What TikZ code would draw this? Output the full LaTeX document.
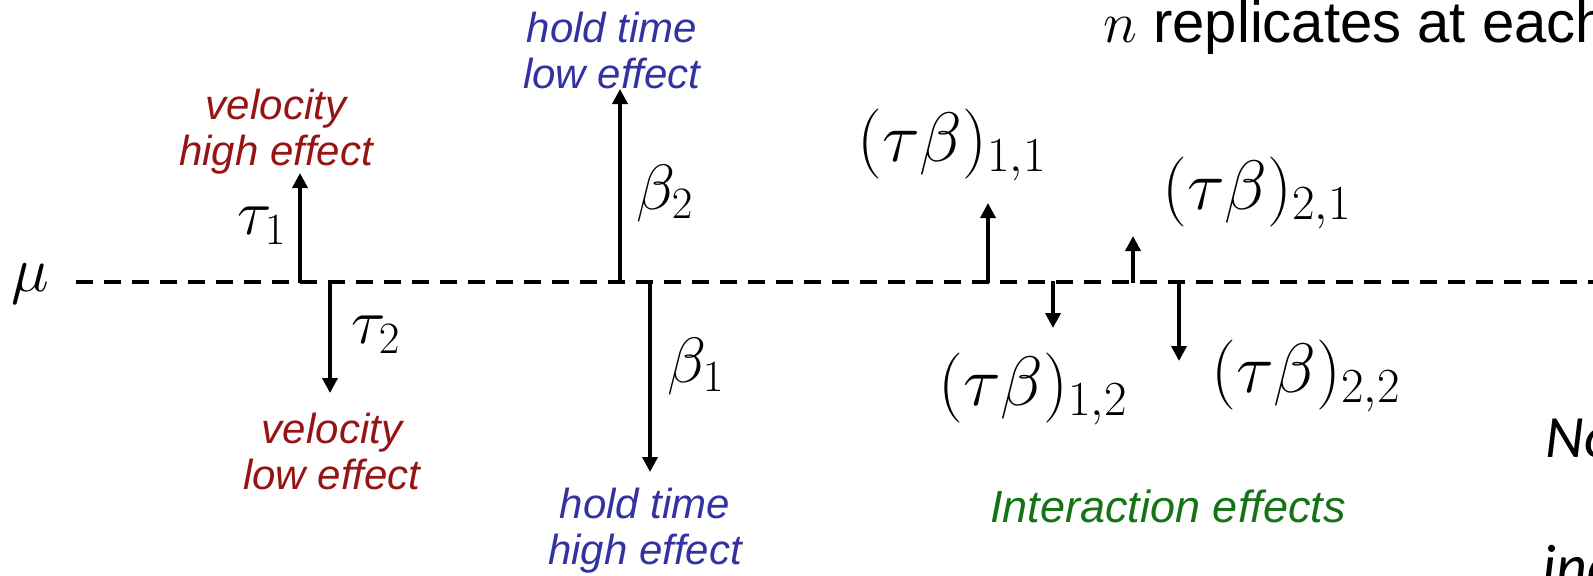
\RequirePackage{fix-cm}
\documentclass[tikz,border=0pt]{standalone}
\usepackage[no-math]{fontspec}
\setmainfont{Liberation Sans}
\newfontfamily\notefont{Carlito}
\usetikzlibrary{arrows.meta}

\definecolor{velred}{RGB}{150,20,20}
\definecolor{holdblue}{RGB}{50,50,160}
\definecolor{intgreen}{RGB}{20,115,20}

\tikzset{
  effect/.style={-{Triangle[length=7.5pt,width=7.5pt]}, line width=1.8pt},
  lbl/.style={font=\fontsize{21}{23}\selectfont\itshape, align=center, inner sep=0pt},
  sym/.style={font=\fontsize{32}{36}\selectfont, inner sep=0pt},
  bigsym/.style={font=\fontsize{35}{40}\selectfont, inner sep=0pt},
}

\begin{document}
\begin{tikzpicture}[x=0.5pt, y=-0.5pt]
    \useasboundingbox (0,0) rectangle (1593,575);
    \clip (0,0) rectangle (1593,575);

    % Grand mean line
    \node[sym] (mu) at (30,284) {$\mu$};
    \coordinate (axL) at (76,282);
    \coordinate (axR) at (1593,282);
    \draw[line width=2pt, dash pattern=on 8.5pt off 5.5pt] (axL) -- (axR);

    % Velocity effects (red)
    \coordinate (t1a) at (300,283); \coordinate (t1b) at (300,173);
    \coordinate (t2a) at (330,281); \coordinate (t2b) at (330,393);
    \draw[effect] (t1a) -- (t1b);
    \draw[effect] (t2a) -- (t2b);
    \node[sym] (tau1) at (262,226) {$\tau_1$};
    \node[sym] (tau2) at (376,335) {$\tau_2$};
    \node[lbl, velred] (velhigh) at (276,132) {velocity\\high effect};
    \node[lbl, velred] (vellow) at (332,451) {velocity\\low effect};

    % Hold time effects (blue)
    \coordinate (b2a) at (620,283); \coordinate (b2b) at (620,89);
    \coordinate (b1a) at (650,281); \coordinate (b1b) at (650,472);
    \draw[effect] (b2a) -- (b2b);
    \draw[effect] (b1a) -- (b1b);
    \node[sym] (beta2) at (665,193) {$\beta_2$};
    \node[sym] (beta1) at (696,366) {$\beta_1$};
    \node[lbl, holdblue] (holdlow) at (612,50) {hold time\\low effect};
    \node[lbl, holdblue] (holdhigh) at (645,531) {hold time\\high effect};

    % Interaction effects (green)
    \coordinate (i11a) at (988,283);  \coordinate (i11b) at (988,203);
    \coordinate (i12a) at (1053,281); \coordinate (i12b) at (1053,328);
    \coordinate (i21a) at (1133,283); \coordinate (i21b) at (1133,236);
    \coordinate (i22a) at (1179,281); \coordinate (i22b) at (1179,361);
    \draw[effect] (i11a) -- (i11b);
    \draw[effect] (i12a) -- (i12b);
    \draw[effect] (i21a) -- (i21b);
    \draw[effect] (i22a) -- (i22b);
    \node[bigsym] (tb11) at (952,145) {$(\tau\beta)_{1,1}$};
    \node[bigsym] (tb12) at (1033,389) {$(\tau\beta)_{1,2}$};
    \node[bigsym] (tb21) at (1257,193) {$(\tau\beta)_{2,1}$};
    \node[bigsym] (tb22) at (1306,376) {$(\tau\beta)_{2,2}$};
    \node[lbl, intgreen, font=\fontsize{22.5}{25}\selectfont\itshape] (inter) at (1168,506) {Interaction effects};

    % Right-hand notes (cut by the frame)
    \node[anchor=base west, inner sep=0pt, font=\fontsize{29}{33}\selectfont] (reps) at (1103,42)
        {$n$ replicates at each};
    \node[anchor=base west, inner sep=0pt, font=\fontsize{30}{34}\selectfont\notefont\itshape] (note1) at (1545,457) {No};
    \node[anchor=base west, inner sep=0pt, font=\fontsize{30}{34}\selectfont\notefont\itshape] (note2) at (1542,586) {ind};

\end{tikzpicture}
\end{document}
